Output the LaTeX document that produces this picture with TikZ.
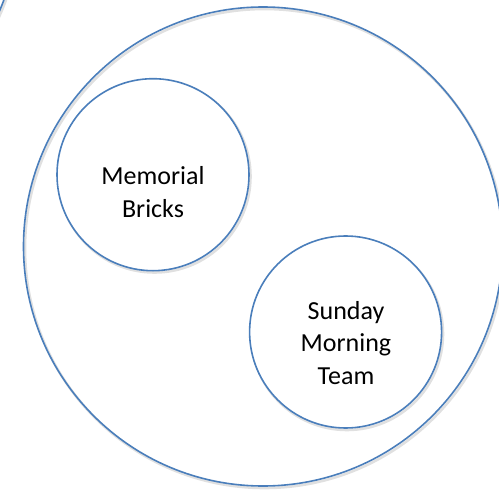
\documentclass[tikz,border=0pt]{standalone}
\usepackage{fontspec}
\setmainfont{Carlito}
\definecolor{ringblue}{RGB}{74,126,187}
\begin{document}
\begin{tikzpicture}[x=1pt,y=-1pt,
  ring/.style={circle,draw=ringblue,line width=1.6pt,inner sep=0pt},
  ringshadow/.style={circle,draw=black!12,line width=2.6pt,inner sep=0pt},
  txt/.style={align=center,font=\fontsize{26}{32.5}\selectfont,inner sep=0pt}]
\useasboundingbox (0,0) rectangle (499,490);
\begin{scope}
\clip (0,0) rectangle (499,490);
% shadows
\node[ringshadow,minimum size=479pt] (outsh) at (264.5,248.5) {};
\node[ringshadow,minimum size=480pt] (cornersh) at (-219.5,-82.5) {};
\node[ringshadow,minimum size=192pt] (mbsh) at (154.5,176.5) {};
\node[ringshadow,minimum size=192pt] (smsh) at (347,334) {};
% rings
\node[ring,minimum size=479pt] (outer) at (263,246.5) {};
\node[ring,minimum size=480pt] (corner) at (-221,-84) {};
\node[ring,minimum size=192pt,fill=white] (mb) at (153,174.7) {};
\node[ring,minimum size=192pt,fill=white] (sm) at (345.6,332) {};
\end{scope}
\node[txt] (mbt) at (153,192) {Memorial\\Bricks};
\node[txt] (smt) at (346,343) {Sunday\\Morning\\Team};
\end{tikzpicture}
\end{document}
